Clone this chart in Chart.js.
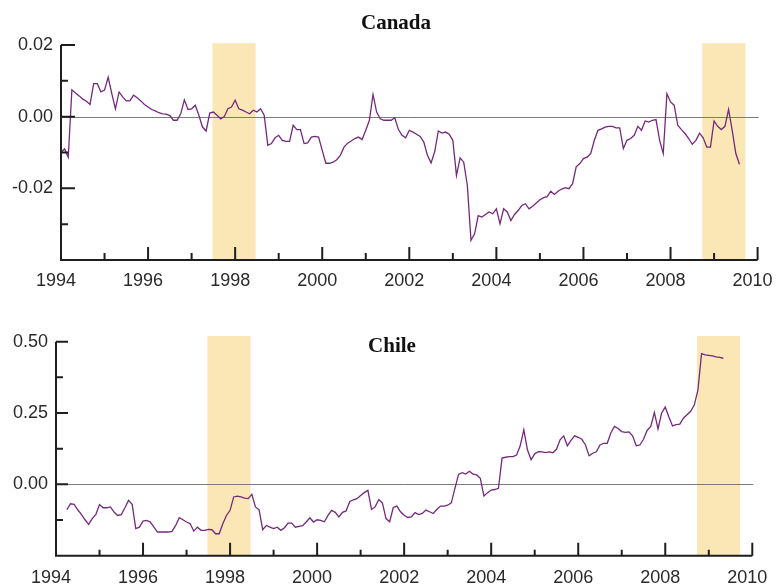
<!DOCTYPE html>
<html>
<head>
<meta charset="utf-8">
<title>Canada / Chile</title>
<script src="https://cdn.jsdelivr.net/npm/chart.js@4.4.1/dist/chart.umd.min.js"></script>
<style>
  html, body { margin: 0; padding: 0; background: #ffffff; }
  #wrap { position: relative; width: 777px; height: 588px; overflow: hidden; }
  .panel { position: absolute; left: 0; width: 777px; }
  #p1 { top: 0; height: 295px; }
  #p2 { top: 295px; height: 293px; }
  canvas { display: block; }
</style>
</head>
<body>
<div id="wrap">
  <div class="panel" id="p1"><canvas id="canada" width="777" height="295"></canvas></div>
  <div class="panel" id="p2"><canvas id="chile" width="777" height="293"></canvas></div>
</div>
<script>
// Monthly series; first value belongs to the start month given below.
const canadaStart = 1994.0;   // Jan 1994
const canadaValues = [
  -0.0099, -0.0090, -0.0113, 0.0075, 0.0066, 0.0058, 0.0049, 0.0043, 0.0034, 0.0092, 0.0092, 0.0069,
  0.0074, 0.0110, 0.0064, 0.0022, 0.0069, 0.0055, 0.0044, 0.0044, 0.0060, 0.0053, 0.0044, 0.0034,
  0.0027, 0.0020, 0.0016, 0.0011, 0.0008, 0.0007, 0.0003, -0.0010, -0.0010, 0.0008, 0.0047, 0.0020,
  0.0022, 0.0032, 0.0004, -0.0029, -0.0040, 0.0010, 0.0013, 0.0004, -0.0006, 0.0000, 0.0022, 0.0027,
  0.0046, 0.0022, 0.0018, 0.0013, 0.0008, 0.0018, 0.0013, 0.0022, 0.0004, -0.0080, -0.0075, -0.0059,
  -0.0052, -0.0066, -0.0069, -0.0069, -0.0024, -0.0036, -0.0036, -0.0075, -0.0073, -0.0057, -0.0055, -0.0057,
  -0.0094, -0.0130, -0.0130, -0.0127, -0.0120, -0.0108, -0.0085, -0.0074, -0.0068, -0.0061, -0.0057, -0.0064,
  -0.0038, -0.0010, 0.0062, 0.0013, -0.0006, -0.0010, -0.0010, -0.0010, -0.0003, -0.0036, -0.0052, -0.0059,
  -0.0038, -0.0043, -0.0049, -0.0055, -0.0071, -0.0108, -0.0129, -0.0098, -0.0040, -0.0046, -0.0043, -0.0049,
  -0.0066, -0.0164, -0.0115, -0.0127, -0.0192, -0.0345, -0.0327, -0.0276, -0.0280, -0.0273, -0.0266, -0.0271,
  -0.0257, -0.0299, -0.0257, -0.0266, -0.0290, -0.0273, -0.0262, -0.0248, -0.0243, -0.0257, -0.0250, -0.0241,
  -0.0232, -0.0226, -0.0223, -0.0208, -0.0217, -0.0208, -0.0202, -0.0198, -0.0201, -0.0187, -0.0140, -0.0131,
  -0.0117, -0.0113, -0.0103, -0.0066, -0.0038, -0.0034, -0.0029, -0.0027, -0.0027, -0.0031, -0.0031, -0.0089,
  -0.0066, -0.0061, -0.0052, -0.0027, -0.0038, -0.0012, -0.0015, -0.0010, -0.0008, -0.0066, -0.0103, 0.0064,
  0.0041, 0.0032, -0.0024, -0.0036, -0.0047, -0.0061, -0.0077, -0.0066, -0.0046, -0.0059, -0.0085, -0.0085,
  -0.0012, -0.0027, -0.0036, -0.0027, 0.0020, -0.0038, -0.0103, -0.0133
];

const chileStart = 1994.25;   // Apr 1994
const chileValues = [
  -0.089, -0.068, -0.070, -0.089, -0.105, -0.124, -0.140, -0.120, -0.105,
  -0.071, -0.082, -0.082, -0.079, -0.097, -0.109, -0.106, -0.082, -0.056, -0.070, -0.155, -0.150,
  -0.129, -0.126, -0.132, -0.150, -0.167, -0.167, -0.167, -0.167, -0.165, -0.144, -0.117, -0.124,
  -0.132, -0.138, -0.164, -0.150, -0.161, -0.161, -0.158, -0.159, -0.173, -0.173, -0.138, -0.109,
  -0.091, -0.044, -0.041, -0.044, -0.048, -0.050, -0.035, -0.079, -0.089, -0.159, -0.144, -0.150,
  -0.155, -0.150, -0.161, -0.152, -0.136, -0.136, -0.150, -0.147, -0.145, -0.132, -0.117, -0.132,
  -0.124, -0.126, -0.131, -0.109, -0.091, -0.098, -0.114, -0.098, -0.093, -0.060, -0.054, -0.050,
  -0.039, -0.029, -0.021, -0.088, -0.079, -0.053, -0.065, -0.120, -0.131, -0.081, -0.076, -0.096,
  -0.108, -0.116, -0.114, -0.099, -0.106, -0.102, -0.090, -0.096, -0.102, -0.088, -0.076, -0.076,
  -0.073, -0.065, -0.014, 0.035, 0.041, 0.036, 0.046, 0.036, 0.033, 0.021, -0.041, -0.029,
  -0.020, -0.018, -0.014, 0.092, 0.095, 0.097, 0.097, 0.103, 0.135, 0.191, 0.121, 0.086,
  0.107, 0.115, 0.114, 0.111, 0.114, 0.111, 0.123, 0.156, 0.170, 0.135, 0.154, 0.170,
  0.165, 0.158, 0.138, 0.100, 0.109, 0.114, 0.138, 0.144, 0.144, 0.180, 0.203, 0.196,
  0.185, 0.182, 0.184, 0.170, 0.135, 0.138, 0.158, 0.189, 0.203, 0.252, 0.194, 0.250,
  0.271, 0.236, 0.205, 0.209, 0.211, 0.232, 0.244, 0.256, 0.278, 0.330, 0.458, 0.454,
  0.452, 0.450, 0.447, 0.445, 0.442
];

// Shaded crisis periods (fractional years)
const bands = [[1997.48, 1998.47], [2008.73, 2009.72]];

// Axis ranges and tick steps
const yearRange = [1994, 2010];
const canadaRange = [-0.04, 0.02];
const canadaMajor = 0.02, canadaMinor = 0.01;
const chileRange = [-0.25, 0.50];
const chileMajor = 0.25, chileMinor = 0.125;

const LINE = '#74297c';
const BAND = '#fae7b5';
const INK = '#1e1e1e';

function toPoints(start, values) {
  return values.map((v, i) => ({ x: start + i / 12, y: v }));
}

// Draws shading, zero line, axis lines with inward ticks and the panel title.
const panelDecor = {
  id: 'panelDecor',
  beforeDatasetsDraw(chart, args, o) {
    const { ctx, chartArea } = chart;
    const x = chart.scales.x, y = chart.scales.y;
    ctx.save();
    ctx.fillStyle = BAND;
    const top = y.getPixelForValue(o.bandTop);
    for (const [a, b] of bands) {
      const x0 = x.getPixelForValue(a), x1 = x.getPixelForValue(b);
      ctx.fillRect(x0, top, x1 - x0, chartArea.bottom - top);
    }
    const y0 = Math.round(y.getPixelForValue(0)) + 0.5;
    ctx.strokeStyle = '#7c7c7c';
    ctx.lineWidth = 1;
    ctx.beginPath();
    ctx.moveTo(chartArea.left, y0);
    ctx.lineTo(x.getPixelForValue(x.max) + 1, y0);
    ctx.stroke();
    ctx.restore();
  },
  afterDraw(chart, args, o) {
    const { ctx, chartArea } = chart;
    const x = chart.scales.x, y = chart.scales.y;
    const L = chartArea.left, B = chartArea.bottom;
    ctx.save();
    ctx.strokeStyle = INK;
    ctx.lineWidth = 2;
    ctx.beginPath();
    // axis lines
    ctx.moveTo(L, y.getPixelForValue(y.max));
    ctx.lineTo(L, B);
    ctx.lineTo(x.getPixelForValue(x.max), B);
    // x ticks (one per year, longer on labelled years)
    for (let yr = x.min + 1; yr <= x.max + 1e-9; yr += 1) {
      const px = x.getPixelForValue(yr);
      const len = ((yr - x.min) % 2 === 0) ? o.xMajorLen : o.xMinorLen;
      ctx.moveTo(px, B);
      ctx.lineTo(px, B - len);
    }
    // y ticks
    const n = Math.round((y.max - y.min) / o.yMinor);
    for (let i = 1; i <= n; i++) {
      const v = y.min + i * o.yMinor;
      const py = y.getPixelForValue(v);
      const isMajor = Math.abs(Math.round(v / o.yMajor) * o.yMajor - v) < 1e-9;
      const len = isMajor ? o.yMajorLen : o.yMinorLen;
      ctx.moveTo(L, py);
      ctx.lineTo(L + len, py);
    }
    ctx.stroke();
    // title
    ctx.fillStyle = '#111';
    ctx.font = 'bold 21px "Liberation Serif", "Times New Roman", serif';
    ctx.textAlign = 'center';
    ctx.textBaseline = 'alphabetic';
    ctx.fillText(o.title, o.titleX, o.titleY);
    ctx.restore();
  }
};

function makePanel(canvasId, cfg) {
  const tickFont = { family: '"Liberation Sans", Arial, sans-serif', size: 18 };
  return new Chart(document.getElementById(canvasId), {
    type: 'line',
    data: {
      datasets: [{
        data: toPoints(cfg.start, cfg.values),
        borderColor: LINE,
        borderWidth: 1.3,
        pointRadius: 0,
        tension: 0,
        fill: false
      }]
    },
    options: {
      responsive: false,
      animation: false,
      devicePixelRatio: 1,
      layout: { padding: cfg.padding },
      plugins: {
        legend: { display: false },
        tooltip: { enabled: false },
        panelDecor: cfg.decor
      },
      scales: {
        x: {
          type: 'linear',
          min: yearRange[0],
          max: yearRange[1],
          afterFit(s) {
            s.height = 30;
            // keep the plot edges fixed; end labels may overhang
            s.paddingLeft = 0;
            s.paddingRight = 0;
          },
          grid: { display: false, drawTicks: false },
          border: { display: false },
          ticks: {
            stepSize: 2,
            padding: cfg.xPad,
            labelOffset: -5,
            maxRotation: 0,
            autoSkip: false,
            color: '#2a2a2a',
            font: tickFont,
            callback: v => String(v)
          }
        },
        y: {
          min: cfg.range[0],
          max: cfg.range[1],
          afterFit(s) {
            s.width = cfg.axisWidth;
            s.paddingTop = 0;
            s.paddingBottom = 0;
          },
          grid: { display: false, drawTicks: false },
          border: { display: false },
          ticks: {
            stepSize: cfg.major,
            padding: 8,
            color: '#2a2a2a',
            font: tickFont,
            callback: v => (Math.abs(v - cfg.range[0]) < 1e-9 ? '' : Number(v).toFixed(2))
          }
        }
      }
    },
    plugins: [panelDecor]
  });
}

makePanel('canada', {
  start: canadaStart,
  values: canadaValues,
  range: canadaRange,
  major: canadaMajor,
  axisWidth: 61,
  xPad: 10,
  padding: { left: 0, right: 19.4, top: 45, bottom: 5 },
  decor: {
    title: 'Canada', titleX: 396, titleY: 29,
    bandTop: 0.0205,
    yMajor: canadaMajor, yMinor: canadaMinor,
    xMajorLen: 13, xMinorLen: 7, yMajorLen: 14, yMinorLen: 7
  }
});

makePanel('chile', {
  start: chileStart,
  values: chileValues,
  range: chileRange,
  major: chileMajor,
  axisWidth: 56,
  xPad: 12,
  padding: { left: 0, right: 24.7, top: 46.7, bottom: 2.3 },
  decor: {
    title: 'Chile', titleX: 392, titleY: 57,
    bandTop: 0.52,
    yMajor: chileMajor, yMinor: chileMinor,
    xMajorLen: 13, xMinorLen: 6, yMajorLen: 12, yMinorLen: 7
  }
});
</script>
</body>
</html>
